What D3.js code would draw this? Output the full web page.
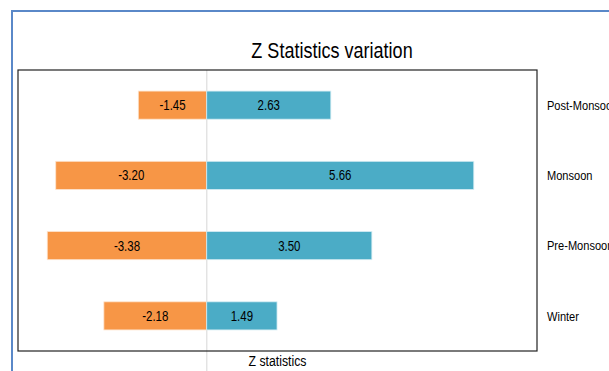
<!DOCTYPE html>
<html>
<head>
<meta charset="utf-8">
<script src="https://cdn.jsdelivr.net/npm/d3@7"></script>
<style>
  html, body { margin: 0; padding: 0; background: #fff; }
  svg { display: block; }
  text { font-family: "Liberation Sans", Arial, sans-serif; fill: #000; }
</style>
</head>
<body>
<svg id="chart" width="609" height="371"></svg>
<script>
// Seasons, top to bottom
const seasons = ["Post-Monsoon", "Monsoon", "Pre-Monsoon", "Winter"];
// Negative and positive Z statistics per season
const negativeZ = [-1.45, -3.20, -3.38, -2.18];
const positiveZ = [2.63, 5.66, 3.50, 1.49];
const xDomain = [-4, 7];

const chartTitle = "Z Statistics variation";
const axisTitle = "Z statistics";

// Horizontal squeeze giving a condensed look to all labels
const NARROW = 0.82;

const svg = d3.select("#chart");

const plot = { left: 18, top: 70, right: 537, bottom: 351 };

const x = d3.scaleLinear().domain(xDomain).range([plot.left, plot.right]);
const y = d3.scaleBand().domain(seasons).range([plot.top, plot.bottom])
  .paddingInner(0.6).paddingOuter(0.3);

// Place a condensed text at (px, py)
function narrowText(sel, px, py) {
  return sel.attr("transform", (d, i) => {
    const tx = typeof px === "function" ? px(d, i) : px;
    const ty = typeof py === "function" ? py(d, i) : py;
    return `translate(${tx},${ty}) scale(${NARROW},1)`;
  });
}

// Outer chart border
svg.append("rect")
  .attr("x", 12).attr("y", 11)
  .attr("width", 700).attr("height", 500)
  .attr("fill", "none")
  .attr("stroke", "#5a88c8")
  .attr("stroke-width", 2);

// Title
narrowText(svg.append("text"), 332, 58)
  .attr("text-anchor", "middle")
  .style("font-size", "22px")
  .text(chartTitle);

// Zero line
svg.append("line")
  .attr("x1", x(0)).attr("x2", x(0))
  .attr("y1", plot.top).attr("y2", 371)
  .attr("stroke", "#e3e3e3")
  .attr("stroke-width", 1.5);

const rows = seasons.map((s, i) => ({ season: s, neg: negativeZ[i], pos: positiveZ[i] }));

// Negative bars
svg.append("g").selectAll("rect")
  .data(rows)
  .join("rect")
  .attr("x", d => x(d.neg))
  .attr("y", d => y(d.season))
  .attr("width", d => x(0) - x(d.neg))
  .attr("height", y.bandwidth())
  .attr("fill", "#f79646")
  .attr("stroke", "#fde3cc")
  .attr("stroke-width", 0.8);

// Positive bars
svg.append("g").selectAll("rect")
  .data(rows)
  .join("rect")
  .attr("x", x(0))
  .attr("y", d => y(d.season))
  .attr("width", d => x(d.pos) - x(0))
  .attr("height", y.bandwidth())
  .attr("fill", "#4bacc6")
  .attr("stroke", "#d3ecf3")
  .attr("stroke-width", 0.8);

// Value labels centred in each bar
const labels = svg.append("g").style("font-size", "14px").attr("text-anchor", "middle");
narrowText(labels.selectAll("text.neg")
  .data(rows)
  .join("text")
  .attr("class", "neg"),
  d => (x(d.neg) + x(0)) / 2,
  d => y(d.season) + y.bandwidth() / 2)
  .attr("dy", "0.36em")
  .text(d => d.neg.toFixed(2));
narrowText(labels.selectAll("text.pos")
  .data(rows)
  .join("text")
  .attr("class", "pos"),
  d => (x(d.pos) + x(0)) / 2,
  d => y(d.season) + y.bandwidth() / 2)
  .attr("dy", "0.36em")
  .text(d => d.pos.toFixed(2));

// Plot frame
svg.append("rect")
  .attr("x", plot.left).attr("y", plot.top)
  .attr("width", plot.right - plot.left)
  .attr("height", plot.bottom - plot.top)
  .attr("fill", "none")
  .attr("stroke", "#222")
  .attr("stroke-width", 1.2);

// Season labels on the right
narrowText(svg.append("g").style("font-size", "13.5px")
  .selectAll("text")
  .data(seasons)
  .join("text"),
  547,
  d => y(d) + y.bandwidth() / 2)
  .attr("dy", "0.36em")
  .text(d => d);

// Axis title
narrowText(svg.append("text"), (plot.left + plot.right) / 2, 366)
  .attr("text-anchor", "middle")
  .style("font-size", "15px")
  .text(axisTitle);
</script>
</body>
</html>
